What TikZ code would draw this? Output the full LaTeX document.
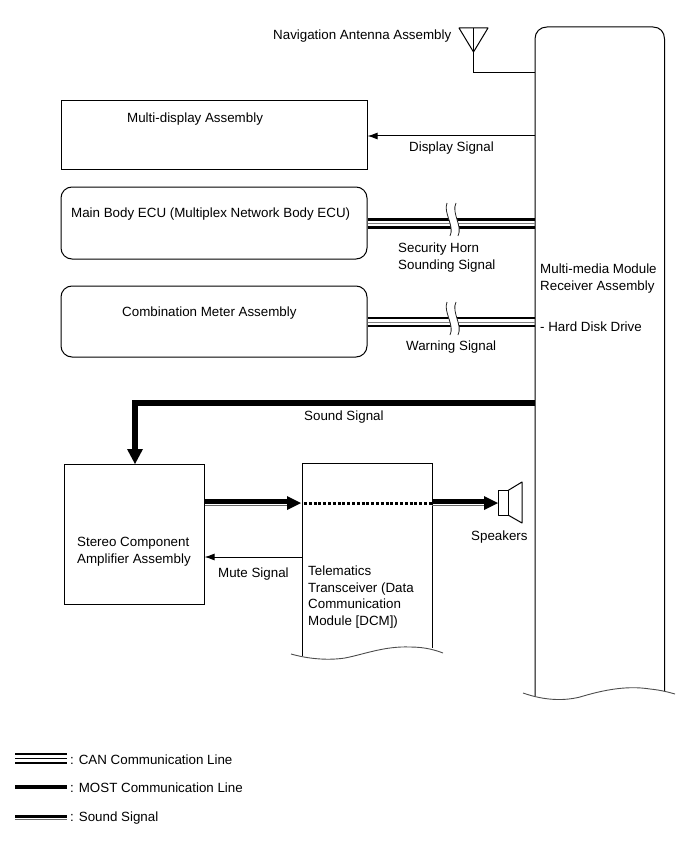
\documentclass[tikz,border=0pt]{standalone}
\usepackage{fontspec}
\setmainfont{Liberation Sans}
\usetikzlibrary{arrows.meta,calc}
\tikzset{
  x=1pt,y=-1pt,
  outline/.style={draw=black,line width=1pt},
  unit/.style={outline,rectangle,anchor=north west,inner sep=0pt},
  ecu/.style={unit,rounded corners=11pt},
  txt/.style={anchor=base west,inner sep=0pt,font=\fontsize{13.35}{13.35}\selectfont},
  thin wire/.style={draw=black,line width=1pt},
  thin arrow/.style={thin wire,-{Latex[length=10pt,width=7pt]}},
  break edge/.style={draw=black!85,line width=.8pt},
  most line/.style={draw=black,line width=6pt},
  can outer/.style={draw=black,line width=2.8pt},
  can inner/.style={draw=black!50,line width=.8pt},
  sound main/.style={draw=black,line width=5.2pt},
  sound under/.style={draw=black!60,line width=1pt},
  open edge/.style={draw=black!70,line width=.9pt},
}
% Paired wavy marks showing an interrupted cable
\newcommand{\breakmark}[2]{%
  \fill[white] (#1-1,#2-20) .. controls (#1-5,#2-10) and (#1+7,#2+3) .. (#1+2,#2+13)
     -- (#1+10,#2+13) .. controls (#1+15,#2+3) and (#1+3,#2-10) .. (#1+8,#2-20) -- cycle;
  \draw[break edge] (#1-1,#2-20) .. controls (#1-5,#2-10) and (#1+7,#2+3) .. (#1+2,#2+13);
  \draw[break edge] (#1+8,#2-20) .. controls (#1+3,#2-10) and (#1+15,#2+3) .. (#1+10,#2+13);
}
\begin{document}
\begin{tikzpicture}
\useasboundingbox (0,0) rectangle (689,853);

% Receiver unit, open at the bottom
\coordinate (mainTL) at (535,27);
\draw[outline] (535,696) -- (535,39) .. controls (535,32) and (540,27) .. (547,27)
   -- (653,27) .. controls (660,27) and (664.5,32) .. (664.5,39) -- (664.5,691);
\draw[open edge] (523,693) .. controls (540,699) and (560,702) .. (580,697)
   .. controls (600,691) and (625,685) .. (650,689) .. controls (660,690) and (668,692) .. (675,694);

% Left-hand units
\node[unit,minimum width=306pt,minimum height=69pt] (display) at (60.5,100.5) {};
\node[ecu,minimum width=306pt,minimum height=72pt] (body) at (60.5,186.5) {};
\node[ecu,minimum width=306pt,minimum height=71pt] (meter) at (60.5,285.5) {};
\node[unit,minimum width=140pt,minimum height=140pt] (amp) at (63.5,463.5) {};

% Telematics unit, open at the bottom
\coordinate (dcmTL) at (302,463.5);
\coordinate (dcmTR) at (432,463.5);
\draw[outline] (302,656) -- (dcmTL) -- (dcmTR) -- (432,648);
\draw[open edge] (291,654) .. controls (305,658) and (325,661) .. (345,658)
   .. controls (365,654) and (385,646) .. (410,647) .. controls (425,647) and (435,650) .. (443,653);

% Antenna with its feed
\coordinate (antL) at (459,28);
\coordinate (antR) at (488,28);
\coordinate (antTip) at (473.5,52);
\coordinate (antTop) at (473.5,28);
\draw[thin wire,line join=round] (antL) -- (antR) -- (antTip) -- cycle;
\draw[thin wire] (antTop) -- (antTip) |- (mainTL |- 0,73);

% Display signal
\draw[thin arrow] (mainTL |- 0,136) -- (display.east |- 0,136);

% CAN cables with break marks
\coordinate (bodyOut) at (body.east |- 0,223.5);
\coordinate (bodyIn) at (mainTL |- 0,223.5);
\coordinate (meterOut) at (meter.east |- 0,322);
\coordinate (meterIn) at (mainTL |- 0,322);
\draw[can outer] ($(bodyOut)+(0,-4)$) -- ($(bodyIn)+(0,-4)$);
\draw[can outer] ($(bodyOut)+(0,4)$) -- ($(bodyIn)+(0,4)$);
\draw[can inner] (bodyOut) -- (bodyIn);
\draw[can outer] ($(meterOut)+(0,-4)$) -- ($(meterIn)+(0,-4)$);
\draw[can outer] ($(meterOut)+(0,4)$) -- ($(meterIn)+(0,4)$);
\draw[can inner] (meterOut) -- (meterIn);
\breakmark{448}{223}
\breakmark{448}{322}

% Sound signal from the receiver to the amplifier
\coordinate (soundStart) at (mainTL |- 0,402.5);
\coordinate (ampIn) at (135,450);
\coordinate (ampTop) at (135,464);
\draw[most line,line join=miter] (soundStart) -| (ampIn);
\fill[black] (ampTop) -- (127,449) -- (143,449) -- cycle;

% Amplifier to telematics to speaker
\coordinate (ampOut) at (amp.east |- 0,502);
\coordinate (dcmIn) at (dcmTL |- 0,502);
\coordinate (dcmOut) at (dcmTR |- 0,502);
\coordinate (spk) at (498,502);
\draw[sound main] ($(ampOut)+(0,-.2)$) -- ($(dcmIn)+(-14,-.2)$);
\draw[sound under] ($(ampOut)+(0,3.6)$) -- ($(dcmIn)+(-14,3.6)$);
\fill[black] ($(dcmIn)+(-1,1)$) -- ++(-14,-7) -- ++(0,14) -- cycle;
\draw[draw=black,line width=2.6pt,dash pattern=on 3pt off 1.8pt] ($(dcmIn)+(2,1.5)$) -- ($(dcmOut)+(0,1.5)$);
\draw[sound main] ($(dcmOut)+(0,-.2)$) -- ($(spk)+(-14,-.2)$);
\draw[sound under] ($(dcmOut)+(0,3.6)$) -- ($(spk)+(-14,3.6)$);
\fill[black] ($(spk)+(0,1)$) -- ++(-14,-7) -- ++(0,14) -- cycle;

% Speaker
\draw[thin wire,line join=round] (498,490.5) rectangle (508,515);
\draw[thin wire,line join=round] (508,490.5) -- (522,482) -- (522,523) -- (508,515);

% Mute signal
\draw[thin arrow] (dcmTL |- 0,557) -- (amp.east |- 0,557);

% Labels
\node[txt] (lblAnt) at (273,40) {Navigation Antenna Assembly};
\node[txt] (lblDisp) at (127,123) {Multi-display Assembly};
\node[txt] (lblDs) at (409,152) {Display Signal};
\node[txt] (lblBody) at (71,217) {Main Body ECU (Multiplex Network Body ECU)};
\node[txt] (lblHorn1) at (398,252) {Security Horn};
\node[txt] (lblHorn2) at (398,269) {Sounding Signal};
\node[txt] (lblMain1) at (540,273) {Multi-media Module};
\node[txt] (lblMain2) at (540,290) {Receiver Assembly};
\node[txt] (lblHdd) at (540,331) {- Hard Disk Drive};
\node[txt] (lblMeter) at (122,316) {Combination Meter Assembly};
\node[txt] (lblWarn) at (406,350) {Warning Signal};
\node[txt] (lblSound) at (304,420) {Sound Signal};
\node[txt] (lblAmp1) at (77,546) {Stereo Component};
\node[txt] (lblAmp2) at (77,563) {Amplifier Assembly};
\node[txt] (lblMute) at (218,577) {Mute Signal};
\node[txt] (lblT1) at (308,575) {Telematics};
\node[txt] (lblT2) at (308,592) {Transceiver (Data};
\node[txt] (lblT3) at (308,608) {Communication};
\node[txt] (lblT4) at (308,625) {Module [DCM])};
\node[txt] (lblSpk) at (471,540) {Speakers};

% Key
\coordinate (k1a) at (15,758.5); \coordinate (k1b) at (67,758.5);
\coordinate (k2a) at (15,787);   \coordinate (k2b) at (67,787);
\coordinate (k3a) at (15,817);   \coordinate (k3b) at (67,817);
\draw[draw=black,line width=2.2pt] ($(k1a)+(0,-4.4)$) -- ($(k1b)+(0,-4.4)$);
\draw[draw=black,line width=1.2pt] (k1a) -- (k1b);
\draw[draw=black,line width=2.2pt] ($(k1a)+(0,4.4)$) -- ($(k1b)+(0,4.4)$);
\draw[draw=black,line width=3.4pt] (k2a) -- (k2b);
\draw[draw=black,line width=3.6pt] ($(k3a)+(0,-.6)$) -- ($(k3b)+(0,-.6)$);
\draw[draw=black!60,line width=1.2pt] ($(k3a)+(0,2.8)$) -- ($(k3b)+(0,2.8)$);
\node[txt] (key1) at (70,764) {: CAN Communication Line};
\node[txt] (key2) at (70,792) {: MOST Communication Line};
\node[txt] (key3) at (70,821) {: Sound Signal};
\end{tikzpicture}
\end{document}
